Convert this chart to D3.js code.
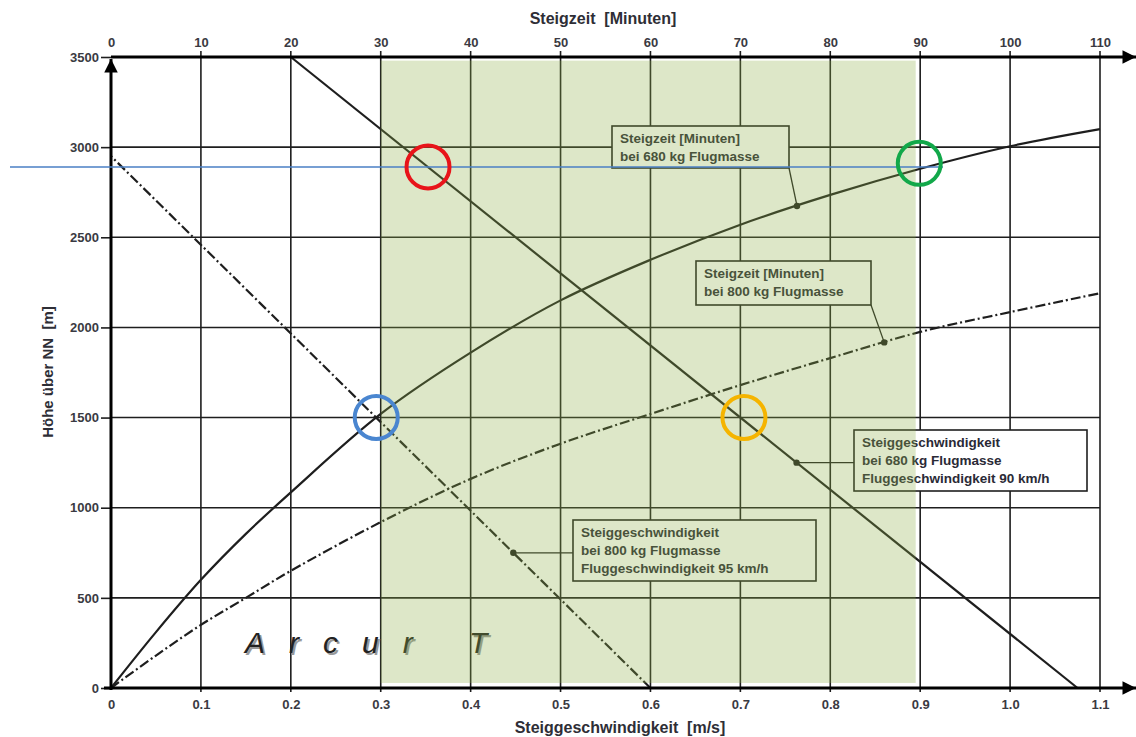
<!DOCTYPE html>
<html>
<head>
<meta charset="utf-8">
<script src="https://cdn.jsdelivr.net/npm/d3@7"></script>
<style>
body { margin:0; background:#fff; }
text { font-family: "Liberation Sans", Arial, sans-serif; }
</style>
</head>
<body>
<svg id="chart" width="1136" height="737"></svg>
<script>
// Steigzeit curves (top axis, minutes) -> altitude in m
var minutes = [0, 5, 10, 15, 20, 30, 40, 50, 60, 70, 80, 90, 100, 110];
var alt680 = [0, 310, 600, 855, 1085, 1520, 1860, 2150, 2375, 2570, 2735, 2880, 3005, 3100];
var alt800 = [0, 180, 350, 500, 650, 920, 1160, 1355, 1520, 1680, 1830, 1975, 2085, 2190];

// Steiggeschwindigkeit lines (bottom axis, m/s) at altitude
var rate680 = [1.075, 0.2];
var rateAlt680 = [0, 3500];
var rate800 = [0.6, 0];
var rateAlt800 = [0, 2950];

var xTicks = [0, 0.1, 0.2, 0.3, 0.4, 0.5, 0.6, 0.7, 0.8, 0.9, 1.0, 1.1];
var minTicks = [0, 10, 20, 30, 40, 50, 60, 70, 80, 90, 100, 110];
var yTicks = [0, 500, 1000, 1500, 2000, 2500, 3000, 3500];

var svg = d3.select("#chart");
var x = d3.scaleLinear().domain([0, 1.1]).range([111, 1100]);
var xm = d3.scaleLinear().domain([0, 110]).range([111, 1100]);
var y = d3.scaleLinear().domain([0, 3500]).range([688, 57]);
var ink = "#1e1e1e";

// grid
svg.append("g").selectAll("line.v")
    .data(xTicks.slice(1))
    .enter().append("line")
    .attr("x1", d => x(d)).attr("x2", d => x(d))
    .attr("y1", y(3500) - 6).attr("y2", y(0) + 4)
    .attr("stroke", ink).attr("stroke-width", 1.6);
svg.append("g").selectAll("line.h")
    .data(yTicks.slice(1, -1))
    .enter().append("line")
    .attr("x1", x(0)).attr("x2", x(1.1))
    .attr("y1", d => y(d)).attr("y2", d => y(d))
    .attr("stroke", ink).attr("stroke-width", 1.6);

// curves
var timeLine = function(alts){
    return d3.line()
        .x(function(d, i){ return xm(minutes[i]); })
        .y(function(d){ return y(d); })
        .curve(d3.curveCatmullRom)(alts);
};
svg.append("path").attr("d", timeLine(alt680))
    .attr("fill", "none").attr("stroke", ink).attr("stroke-width", 2.2);
svg.append("path").attr("d", timeLine(alt800))
    .attr("fill", "none").attr("stroke", ink).attr("stroke-width", 2.2)
    .attr("stroke-dasharray", "10,3,2,3");

var rateLine = d3.line().x(d => x(d[0])).y(d => y(d[1]));
svg.append("path").attr("d", rateLine(d3.zip(rate680, rateAlt680)))
    .attr("fill", "none").attr("stroke", ink).attr("stroke-width", 2.2);
svg.append("path").attr("d", rateLine(d3.zip(rate800, rateAlt800)))
    .attr("fill", "none").attr("stroke", ink).attr("stroke-width", 2.2)
    .attr("stroke-dasharray", "10,3,2,3");

// label boxes: anchor dot on curve, box corner, line list
var timeAt = function(alts, m){ return d3.scaleLinear().domain(minutes).range(alts)(m); };
var rateAt = function(r, a, h){ return d3.scaleLinear().domain(a).range(r)(h); };
var notes = [
    {lines:["Steigzeit [Minuten]", "bei 680 kg Flugmasse"],
     dot:[xm(76.3), y(timeAt(alt680, 76.3))], box:[612, 126, 177, 42], from:[789, 168]},
    {lines:["Steigzeit [Minuten]", "bei 800 kg Flugmasse"],
     dot:[xm(86), y(timeAt(alt800, 86))], box:[696, 261, 175, 44], from:[871, 305]},
    {lines:["Steiggeschwindigkeit", "bei 680 kg Flugmasse", "Fluggeschwindigkeit 90 km/h"],
     dot:[x(rateAt(rate680, rateAlt680, 1250)), y(1250)], box:[854, 430, 233, 61], from:[854, y(1250)]},
    {lines:["Steiggeschwindigkeit", "bei 800 kg Flugmasse", "Fluggeschwindigkeit 95 km/h"],
     dot:[x(rateAt(rate800, rateAlt800, 750)), y(750)], box:[573, 520, 243, 61], from:[573, y(750)]}
];
var ng = svg.append("g");
notes.forEach(function(n){
    ng.append("line").attr("x1", n.from[0]).attr("y1", n.from[1])
        .attr("x2", n.dot[0]).attr("y2", n.dot[1])
        .attr("stroke", ink).attr("stroke-width", 1.3);
    ng.append("circle").attr("cx", n.dot[0]).attr("cy", n.dot[1]).attr("r", 3.2).attr("fill", ink);
    ng.append("rect").attr("x", n.box[0]).attr("y", n.box[1])
        .attr("width", n.box[2]).attr("height", n.box[3])
        .attr("fill", "#fff").attr("stroke", ink).attr("stroke-width", 1.6);
    n.lines.forEach(function(t, i){
        ng.append("text").attr("x", n.box[0] + 8).attr("y", n.box[1] + 17 + i * 18)
            .attr("font-size", 13.5).attr("font-weight", "bold").attr("fill", "#2a2a36").text(t);
    });
});

// logo
var logo = svg.append("g").attr("transform", "translate(245,653)");
[["#999", 2], ["#222", 0]].forEach(function(s){
    logo.append("text").attr("x", s[1]).attr("y", s[1]).text("Arcur T")
        .attr("font-family", "DejaVu Serif").attr("font-style", "italic").attr("font-size", 30)
        .attr("letter-spacing", 24).attr("fill", s[0]);
});

// green overlay (operating range)
svg.append("rect")
    .attr("x", x(0.3)).attr("y", y(3480))
    .attr("width", x(0.895) - x(0.3)).attr("height", y(28) - y(3480))
    .attr("fill", "rgb(142,175,72)").attr("opacity", 0.3);

// axes
var axB = svg.append("g").attr("transform", "translate(0,688)")
    .call(d3.axisBottom(x).tickValues(xTicks).tickSize(0).tickPadding(12)
        .tickFormat(d => d === 0 ? "0" : d3.format(".1f")(d)));
var axT = svg.append("g").attr("transform", "translate(0,57)")
    .call(d3.axisTop(xm).tickValues(minTicks).tickSize(0).tickPadding(10));
var axL = svg.append("g").attr("transform", "translate(111,0)")
    .call(d3.axisLeft(y).tickValues(yTicks).tickSize(10).tickPadding(2).tickFormat(d3.format("d")));
[axB, axT, axL].forEach(function(a){
    a.select(".domain").remove();
    a.selectAll("text").attr("font-size", 13).attr("font-weight", "bold")
        .attr("fill", "#3a3a42").attr("font-family", "Liberation Sans, Arial, sans-serif");
    a.selectAll("line").attr("stroke", ink).attr("stroke-width", 1.6);
});

// axis lines with arrows
svg.append("defs").append("marker").attr("id", "arr")
    .attr("viewBox", "0 0 10 10").attr("refX", 10).attr("refY", 5)
    .attr("markerWidth", 7).attr("markerHeight", 4.5).attr("markerUnits", "strokeWidth")
    .attr("orient", "auto")
    .append("path").attr("d", "M0,0L10,5L0,10z").attr("fill", "#000");
svg.append("line").attr("x1", 104).attr("y1", 688).attr("x2", 1136).attr("y2", 688)
    .attr("stroke", "#000").attr("stroke-width", 3).attr("marker-end", "url(#arr)");
svg.append("line").attr("x1", 111).attr("y1", 57).attr("x2", 1136).attr("y2", 57)
    .attr("stroke", "#000").attr("stroke-width", 3).attr("marker-end", "url(#arr)");
svg.append("line").attr("x1", 111).attr("y1", 690).attr("x2", 111).attr("y2", 59)
    .attr("stroke", "#000").attr("stroke-width", 3).attr("marker-end", "url(#arr)");

// axis titles
svg.append("text").attr("x", 603).attr("y", 24).attr("text-anchor", "middle")
    .attr("font-size", 16).attr("font-weight", "bold").attr("fill", "#2e2e36")
    .attr("xml:space", "preserve").text("Steigzeit  [Minuten]");
svg.append("text").attr("x", 620).attr("y", 733).attr("text-anchor", "middle")
    .attr("font-size", 16).attr("font-weight", "bold").attr("fill", "#2e2e36")
    .attr("xml:space", "preserve").text("Steiggeschwindigkeit  [m/s]");
svg.append("text").attr("transform", "translate(53,372) rotate(-90)").attr("text-anchor", "middle")
    .attr("font-size", 15).attr("font-weight", "bold").attr("fill", "#2e2e36")
    .attr("xml:space", "preserve").text("Höhe über NN  [m]");

// highlight marks
svg.append("line").attr("x1", 10).attr("x2", 943).attr("y1", 167).attr("y2", 167)
    .attr("stroke", "#4a7fc4").attr("stroke-width", 1.5);
var rings = [
    {m:[0.3526, 2890], c:"#e8141a"},
    {m:[0.899, 2910], c:"#12a84a"},
    {m:[0.295, 1500], c:"#4a86d0"},
    {m:[0.704, 1500], c:"#f5b400"}
];
svg.append("g").selectAll("circle").data(rings).enter().append("circle")
    .attr("cx", d => x(d.m[0])).attr("cy", d => y(d.m[1])).attr("r", 21.5)
    .attr("fill", "none").attr("stroke", d => d.c).attr("stroke-width", 4);
</script>
</body>
</html>
